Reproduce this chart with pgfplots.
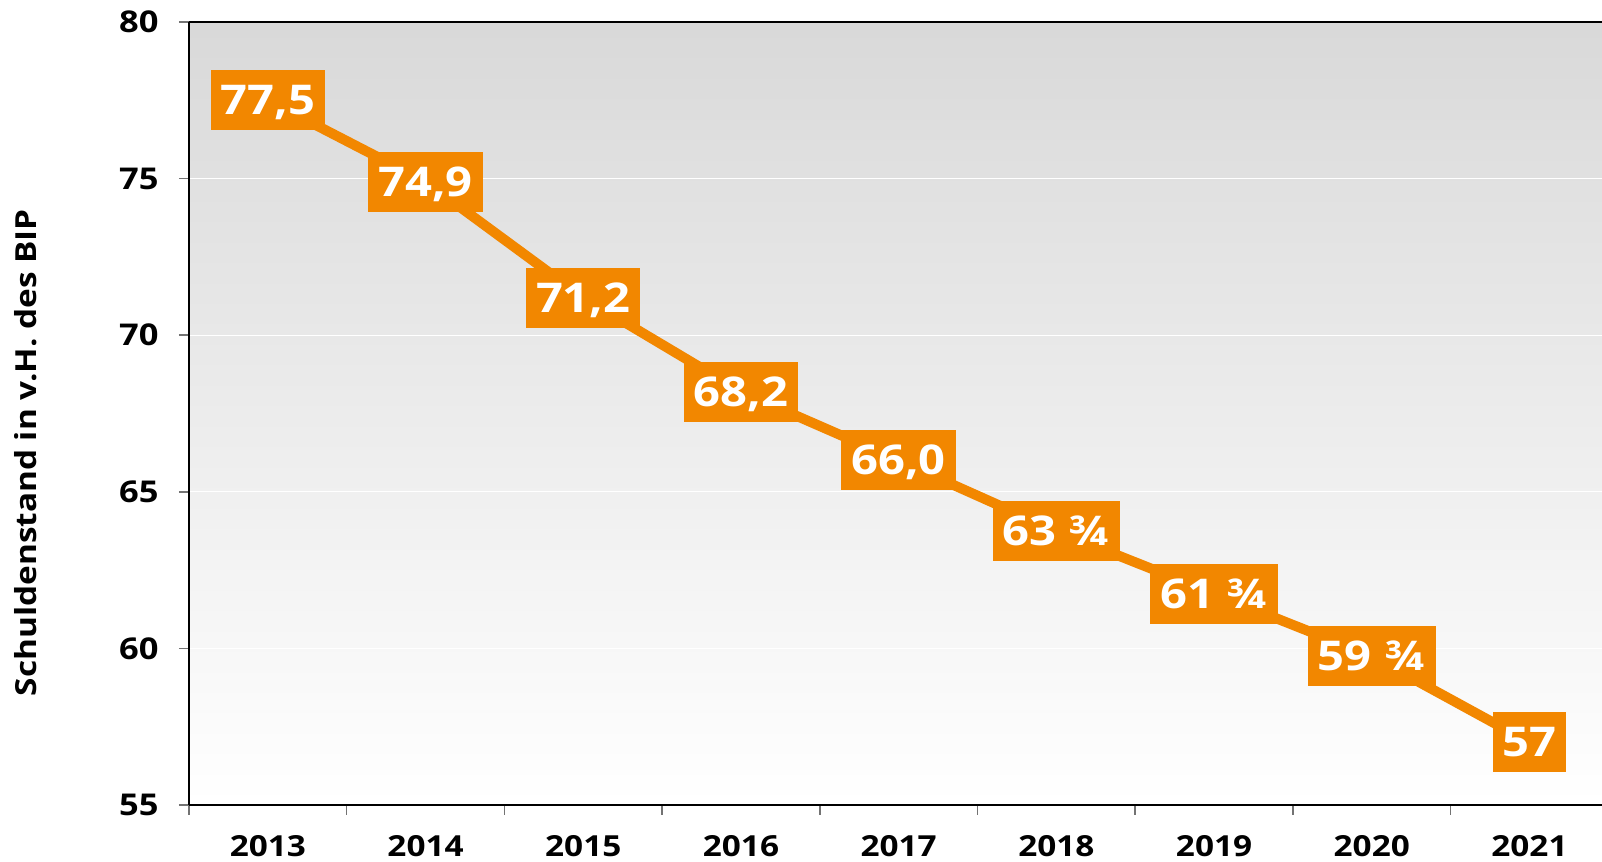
\documentclass[border=0pt]{standalone}
\usepackage{pgfplots}
\usepackage{pgfplotstable}
\pgfplotsset{compat=1.18}
\usepackage{fontspec}
\setmainfont{Open Sans}[FakeStretch=1.15]
\definecolor{boxorange}{HTML}{F28700}
\pgfplotstableread[col sep=semicolon]{
x;y;lab
0;77.5;77,5
1;74.9;74,9
2;71.2;71,2
3;68.2;68,2
4;66.0;66,0
5;63.75;63 ¾
6;61.75;61 ¾
7;59.75;59 ¾
8;57;57
}\debttable
\begin{document}
\begin{tikzpicture}
\useasboundingbox (-94.5pt,-28.5pt) rectangle (706.5pt,402.5pt);
\begin{axis}[
  at={(0,0)}, anchor=south west,
  scale only axis, width=706.5pt, height=391.5pt,
  xmin=-0.5, xmax=8.46, ymin=55, ymax=80,
  axis x line*=bottom, axis y line*=left,
  axis line style={black, line width=1pt},
  axis background/.style={top color=black!15, bottom color=white},
  /pgf/number format/assume math mode=true,
  ytick={55,60,...,80},
  ymajorgrids, grid style={white, line width=0.6pt},
  xtick={-0.5,0.5,...,7.5}, xticklabels={},
  extra x ticks={0,1,...,8},
  extra x tick labels={2013,2014,2015,2016,2017,2018,2019,2020,2021},
  extra x tick style={major tick length=0pt, grid=none,
     xticklabel style={anchor=base, yshift=-26pt, inner sep=0pt}},
  tick align=outside, major tick length=5pt,
  tick style={black!55, line width=0.8pt},
  ticklabel style={font=\fontsize{15pt}{18pt}\selectfont\bfseries},
  x tick label style={font=\fontsize{14.5pt}{17pt}\selectfont\bfseries},
  yticklabel style={anchor=east, inner xsep=0pt, xshift=-10pt},
  ylabel={Schuldenstand in v.H. des BIP},
  ylabel style={at={(axis description cs:-0.1154,0.45)}, anchor=center,
     font=\fontsize{14.5pt}{17pt}\selectfont\bfseries},
  clip=false,
  point meta=explicit symbolic,
  nodes near coords,
  every node near coord/.append style={anchor=center, fill=boxorange, text=white,
     font=\fontsize{20.5pt}{23pt}\selectfont\bfseries,
     minimum height=30pt, inner xsep=5pt, inner ysep=0pt,
     text height=14.5pt, text depth=0pt},
]
\addplot[boxorange, line width=5pt, line join=round, mark=none] table[x=x, y=y, meta=lab] {\debttable};
\end{axis}
\draw[black, line width=1pt] (0,391.5pt) -- (706.5pt,391.5pt);
\end{tikzpicture}
\end{document}
